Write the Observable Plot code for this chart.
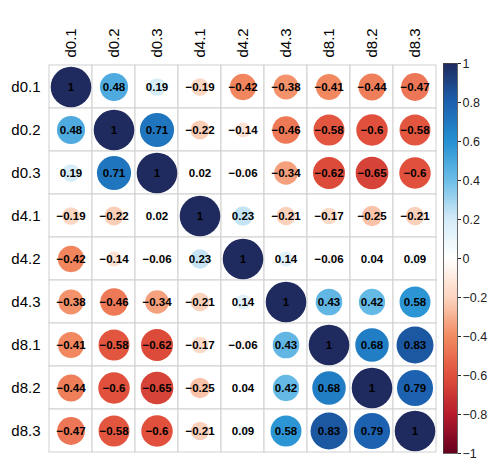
<!DOCTYPE html>
<html>
<head>
<meta charset="utf-8">
<script src="https://cdn.jsdelivr.net/npm/d3@7"></script>
<script src="https://cdn.jsdelivr.net/npm/@observablehq/plot@0.6"></script>
<style>
  html, body { margin: 0; padding: 0; background: #ffffff; }
  #chart { position: relative; width: 488px; height: 465px; }
  #chart svg { position: absolute; left: 0; top: 0; }
</style>
</head>
<body>
<div id="chart"></div>
<script>
// ---- data ----
const labels = ["d0.1", "d0.2", "d0.3", "d4.1", "d4.2", "d4.3", "d8.1", "d8.2", "d8.3"];
const row_d01 = [1, 0.48, 0.19, -0.19, -0.42, -0.38, -0.41, -0.44, -0.47];
const row_d02 = [0.48, 1, 0.71, -0.22, -0.14, -0.46, -0.58, -0.6, -0.58];
const row_d03 = [0.19, 0.71, 1, 0.02, -0.06, -0.34, -0.62, -0.65, -0.6];
const row_d41 = [-0.19, -0.22, 0.02, 1, 0.23, -0.21, -0.17, -0.25, -0.21];
const row_d42 = [-0.42, -0.14, -0.06, 0.23, 1, 0.14, -0.06, 0.04, 0.09];
const row_d43 = [-0.38, -0.46, -0.34, -0.21, 0.14, 1, 0.43, 0.42, 0.58];
const row_d81 = [-0.41, -0.58, -0.62, -0.17, -0.06, 0.43, 1, 0.68, 0.83];
const row_d82 = [-0.44, -0.6, -0.65, -0.25, 0.04, 0.42, 0.68, 1, 0.79];
const row_d83 = [-0.47, -0.58, -0.6, -0.21, 0.09, 0.58, 0.83, 0.79, 1];
const legendTicks = [-1, -0.8, -0.6, -0.4, -0.2, 0, 0.2, 0.4, 0.6, 0.8, 1];

// ---- styling ----
const rows = [row_d01, row_d02, row_d03, row_d41, row_d42, row_d43, row_d81, row_d82, row_d83];
const colorDomain = [-1, -0.8, -0.6, -0.4, -0.2, 0, 0.2, 0.4, 0.6, 0.8, 1];
const colorRange = ["#67001F", "#B71C2C", "#E0503C", "#F28B62", "#FCD5C0", "#FFFFFF",
                    "#D4EBF7", "#6BBDE7", "#2590D2", "#1C60AE", "#1F2A5E"];
const font = "'Liberation Sans', Arial, Helvetica, sans-serif";
const fmt = v => String(v).replace("-", "\u2212");

const cells = [];
rows.forEach((r, i) => r.forEach((v, j) => cells.push({row: labels[i], col: labels[j], v})));

const main = Plot.plot({
  width: 488,
  height: 465,
  marginLeft: 49,
  marginRight: 52,
  marginTop: 64,
  marginBottom: 13,
  style: {fontFamily: font, fontSize: "15px", background: "transparent", color: "#000"},
  x: {domain: labels, padding: 0, axis: null},
  y: {domain: labels, padding: 0, axis: null},
  r: {type: "sqrt", domain: [0, 1], range: [0, 20.3]},
  color: {type: "linear", domain: colorDomain, range: colorRange},
  marks: [
    Plot.cell(cells, {x: "col", y: "row", fill: "white", stroke: "#d0d0d0", strokeWidth: 1}),
    Plot.dot(cells, {x: "col", y: "row", r: d => Math.abs(d.v), fill: "v", stroke: null}),
    Plot.text(cells, {x: "col", y: "row", text: d => fmt(d.v), fill: "#000",
                      fontWeight: "bold", fontSize: 11.5}),
    Plot.axisX({anchor: "top", label: null, tickRotate: -90, tickSize: 0, tickPadding: 7, fontSize: 15}),
    Plot.axisY({anchor: "left", label: null, tickSize: 0, tickPadding: 9, fontSize: 15})
  ]
});

const step = 0.01;
const ramp = d3.range(-1, 1 - 1e-9, step);
const legend = Plot.plot({
  width: 488,
  height: 465,
  marginLeft: 443,
  marginRight: 31,
  marginTop: 63,
  marginBottom: 12,
  style: {fontFamily: font, fontSize: "12.5px", background: "transparent", color: "#222"},
  x: {domain: [0, 1], axis: null},
  y: {domain: [-1, 1], axis: null},
  color: {type: "linear", domain: colorDomain, range: colorRange},
  marks: [
    Plot.rect(ramp, {x1: 0, x2: 1, y1: d => d, y2: d => d + step + 0.002,
                     fill: d => d + step / 2, shapeRendering: "crispEdges"}),
    Plot.frame({stroke: "#444", strokeWidth: 0.8}),
    Plot.axisY({anchor: "right", label: null, ticks: legendTicks, tickFormat: fmt, tickSize: 3,
                tickPadding: 2, fontSize: 12.5})
  ]
});

document.getElementById("chart").append(main, legend);
</script>
</body>
</html>
